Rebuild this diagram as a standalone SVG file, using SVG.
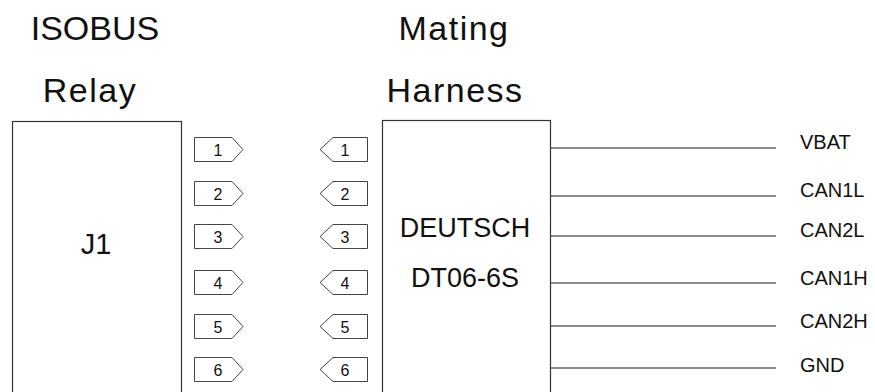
<svg xmlns="http://www.w3.org/2000/svg" width="875" height="392" viewBox="0 0 875 392">
<style>
text{font-family:"Liberation Sans",Arial,sans-serif;fill:#111}
.title{font-size:34px;text-anchor:middle}
.wide{letter-spacing:1.5px}
.big{font-size:27px;text-anchor:middle}
.pin{fill:#fff;stroke:#444;stroke-width:1}
.pnum{font-size:16px;text-anchor:middle}
.box{fill:#fff;stroke:#333;stroke-width:1.2}
.wire{stroke:#666;stroke-width:1.3}
.lbl{font-size:20px}
</style>
<rect width="875" height="392" fill="#fff"/>
<g id="titles">
<text class="title" x="95" y="40">ISOBUS</text>
<text class="title wide" x="90" y="102">Relay</text>
<text class="title wide" x="454" y="40">Mating</text>
<text class="title wide" x="455" y="102">Harness</text>
</g>
<g id="relay-j1">
<rect class="box" x="12.5" y="121.5" width="169" height="300"/>
<text x="96" y="254" style="font-size:29px;text-anchor:middle">J1</text>
</g>
<g id="deutsch">
<rect class="box" x="382.5" y="120.5" width="168" height="300"/>
<text class="big" x="465" y="237">DEUTSCH</text>
<text class="big" x="465" y="287">DT06-6S</text>
</g>
<g id="relay-pins">
<g id="rp1"><path class="pin" d="M194.5,137.5H232L243,149.5L232,161.5H194.5Z"/><text class="pnum" x="218" y="155.5">1</text></g>
<g id="rp2"><path class="pin" d="M194.5,181.5H232L243,193.5L232,205.5H194.5Z"/><text class="pnum" x="218" y="199.5">2</text></g>
<g id="rp3"><path class="pin" d="M194.5,224.5H232L243,236.5L232,248.5H194.5Z"/><text class="pnum" x="218" y="242.5">3</text></g>
<g id="rp4"><path class="pin" d="M194.5,270.5H232L243,282.5L232,294.5H194.5Z"/><text class="pnum" x="218" y="288.5">4</text></g>
<g id="rp5"><path class="pin" d="M194.5,314.5H232L243,326.5L232,338.5H194.5Z"/><text class="pnum" x="218" y="332.5">5</text></g>
<g id="rp6"><path class="pin" d="M194.5,357.5H232L243,369.5L232,381.5H194.5Z"/><text class="pnum" x="218" y="375.5">6</text></g>
</g>
<g id="harness-pins">
<g id="hp1"><path class="pin" d="M367.5,137.5H333L320,149.5L333,161.5H367.5Z"/><text class="pnum" x="345" y="155.5">1</text></g>
<g id="hp2"><path class="pin" d="M367.5,181.5H333L320,193.5L333,205.5H367.5Z"/><text class="pnum" x="345" y="199.5">2</text></g>
<g id="hp3"><path class="pin" d="M367.5,224.5H333L320,236.5L333,248.5H367.5Z"/><text class="pnum" x="345" y="242.5">3</text></g>
<g id="hp4"><path class="pin" d="M367.5,270.5H333L320,282.5L333,294.5H367.5Z"/><text class="pnum" x="345" y="288.5">4</text></g>
<g id="hp5"><path class="pin" d="M367.5,314.5H333L320,326.5L333,338.5H367.5Z"/><text class="pnum" x="345" y="332.5">5</text></g>
<g id="hp6"><path class="pin" d="M367.5,357.5H333L320,369.5L333,381.5H367.5Z"/><text class="pnum" x="345" y="375.5">6</text></g>
</g>
<g id="connectors">
<line class="wire" x1="551" y1="148" x2="776" y2="148"/>
<line class="wire" x1="551" y1="196" x2="776" y2="196"/>
<line class="wire" x1="551" y1="236" x2="776" y2="236"/>
<line class="wire" x1="551" y1="283" x2="776" y2="283"/>
<line class="wire" x1="551" y1="326" x2="776" y2="326"/>
<line class="wire" x1="551" y1="368" x2="776" y2="368"/>
</g>
<g id="signal-labels">
<text class="lbl" x="800" y="149">VBAT</text>
<text class="lbl" x="800" y="197">CAN1L</text>
<text class="lbl" x="800" y="237">CAN2L</text>
<text class="lbl" x="800" y="285">CAN1H</text>
<text class="lbl" x="800" y="328">CAN2H</text>
<text class="lbl" x="800" y="372">GND</text>
</g>
</svg>
